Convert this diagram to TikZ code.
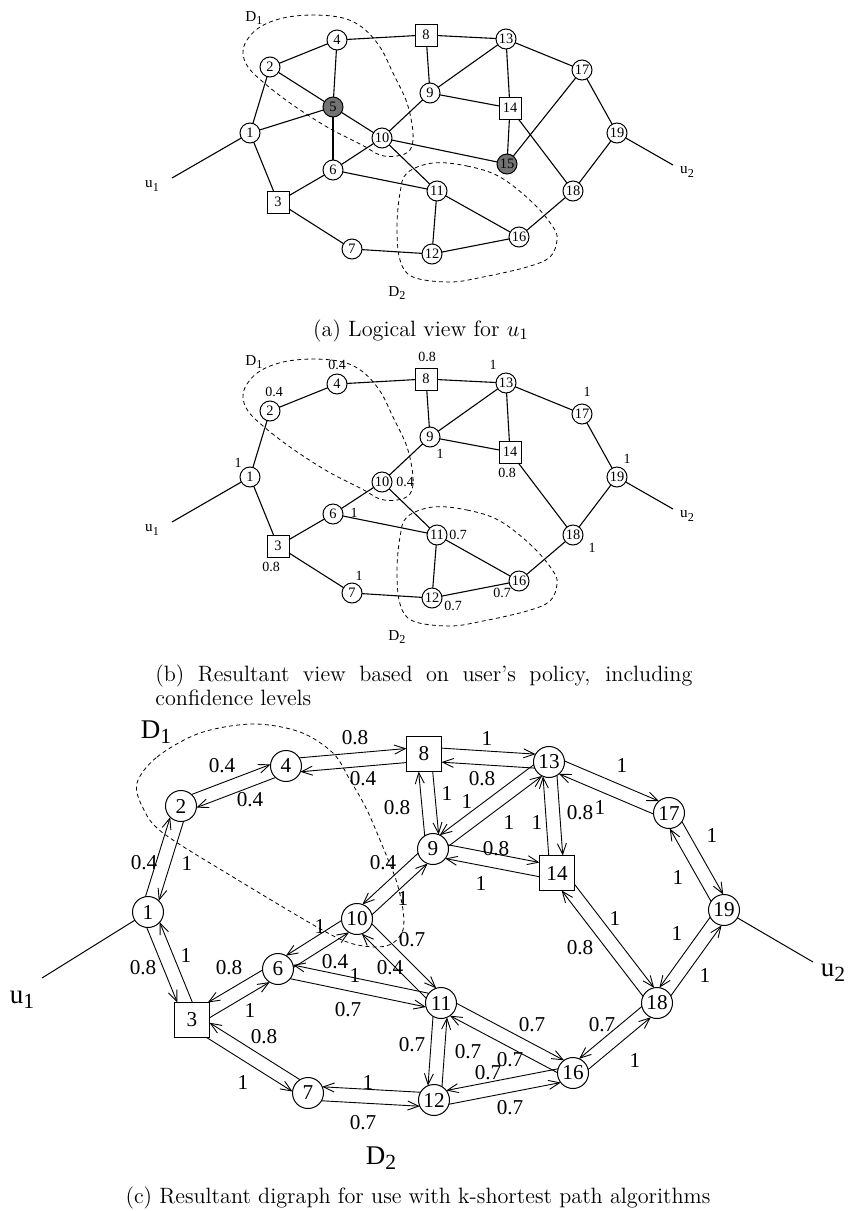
\documentclass[tikz,border=0pt]{standalone}
\usepackage{fontspec}
\usepackage{graphicx}
\newfontfamily\tms{Liberation Serif}
\usetikzlibrary{calc,arrows.meta}
\newcommand\dsub[1]{\raisebox{-0.45ex}{\scalebox{0.8}{#1}}}
% --- double-arrow machinery for panel (c)
\newcommand\arrsh[5]{%
  \ifcsname sqn@#1\endcsname
    \pgfmathsetmacro\arrres{min((8.75-(#4)*sign(#2))/max(abs(#2),0.001),(8.75-(#5)*sign(#3))/max(abs(#3),0.001))}%
  \else
    \pgfmathsetmacro\arrres{sqrt(7.75*7.75-3.5*3.5)}%
  \fi}
\newcommand\onearr[3]{%
  \pgfpointanchor{#1}{center}\pgfgetlastxy{\Xa}{\Ya}%
  \pgfpointanchor{#2}{center}\pgfgetlastxy{\Xb}{\Yb}%
  \pgfmathsetmacro\Dx{\Xb-\Xa}%
  \pgfmathsetmacro\Dy{\Yb-\Ya}%
  \pgfmathsetmacro\ArL{veclen(\Dx,\Dy)}%
  \pgfmathsetmacro\Ux{\Dx/\ArL}\pgfmathsetmacro\Uy{\Dy/\ArL}%
  \pgfmathsetmacro\Px{-(#3)*3.5*\Uy}\pgfmathsetmacro\Py{(#3)*3.5*\Ux}%
  \arrsh{#1}{\Ux}{\Uy}{\Px}{\Py}\let\SA\arrres
  \pgfmathsetmacro\mUx{-\Ux}\pgfmathsetmacro\mUy{-\Uy}%
  \arrsh{#2}{\mUx}{\mUy}{\Px}{\Py}\let\SB\arrres
  \draw[arr,shorten <=\SA pt,shorten >=\SB pt] ($(#1.center)+(\Px pt,\Py pt)$) -- ($(#2.center)+(\Px pt,\Py pt)$);
}
\newcommand\biarr[3]{\onearr{#1}{#2}{#3}\onearr{#2}{#1}{#3}}
\expandafter\def\csname sqn@c3\endcsname{}
\expandafter\def\csname sqn@c8\endcsname{}
\expandafter\def\csname sqn@c14\endcsname{}
\begin{document}
\begin{tikzpicture}[x=0.5pt,y=-0.5pt,
  na/.style={circle,draw,line width=0.5pt,minimum size=10pt,inner sep=0pt,outer sep=0pt,fill=white,font=\tms\fontsize{7.2}{8}\selectfont},
  nas/.style={na,rectangle,minimum size=11pt},
  ngray/.style={na,fill=black!55},
  ea/.style={line width=0.55pt},
  dsh/.style={dash pattern=on 2pt off 1.6pt,line width=0.4pt},
  la/.style={inner sep=0pt,font=\tms\fontsize{7}{8}\selectfont},
  lu/.style={inner sep=0pt,font=\tms\fontsize{7.6}{9}\selectfont},
  nc/.style={circle,draw,line width=0.5pt,minimum size=15.5pt,inner sep=0pt,outer sep=0pt,fill=white,font=\tms\fontsize{10.6}{12}\selectfont},
  ncs/.style={nc,rectangle,minimum size=17.5pt},
  lc/.style={inner sep=0pt,font=\tms\fontsize{10.6}{12}\selectfont},
  lbig/.style={inner sep=0pt,font=\tms\fontsize{13.5}{15}\selectfont},
  captxt/.style={inner sep=0pt,font=\fontsize{11.1}{12.3}\selectfont},
  arr/.style={line width=0.45pt,-{Straight Barb[length=5.5pt,width=4.5pt]}}]
\useasboundingbox (0,0) rectangle (847,1211);

% ================= panels (a) and (b): dashed domains
\foreach \s in {0,344}{
\begin{scope}[shift={(0,\s)}]
\draw[dsh] plot[smooth cycle,tension=0.6] coordinates {(243,53) (247,40) (260,27) (283,18) (313,15) (343,18) (363,28) (380,47) (393,73) (407,103) (413,133) (410,150) (397,156) (380,155) (362,145) (327,127) (290,103) (263,82) (248,67)};
\draw[dsh] plot[smooth cycle,tension=0.6] coordinates {(433,163) (467,166) (500,177) (533,203) (553,227) (557,240) (550,257) (527,267) (483,277) (450,282) (413,277) (400,260) (397,227) (400,193) (407,173)};
\end{scope}}

% ================= nodes (a) and (b)
\foreach \n/\x/\y in {1/250/133, 2/270/67, 4/337/40, 6/333/170, 7/352/249, 9/430/93, 10/382/138, 11/437/191, 12/432/254, 13/506/39, 16/519/237, 17/582/70, 18/573/191, 19/617/133}{
  \node[na] (a\n) at (\x,\y) {\n};
  \node[na] (b\n) at (\x,\y+344) {\n};
}
\foreach \n/\x/\y in {3/278/202, 8/426/35, 14/510/108}{
  \node[nas] (a\n) at (\x,\y) {\n};
  \node[nas] (b\n) at (\x,\y+344) {\n};
}
\node[ngray] (a5) at (333,107) {5};
\node[ngray] (a15) at (507,164) {15};

\foreach \u/\v in {1/2,1/5,1/3,2/4,2/5,4/5,4/8,5/6,5/10,6/10,6/3,6/11,3/7,7/12,10/9,10/11,10/15,8/9,8/13,9/13,9/14,13/14,13/17,14/15,14/18,15/17,17/19,19/18,18/16,11/16,11/12,12/16}
  \draw[ea] (a\u) -- (a\v);
\foreach \u/\v in {1/2,1/3,2/4,4/8,8/9,8/13,9/13,9/14,9/10,13/14,13/17,17/19,19/18,14/18,18/16,10/6,10/11,6/3,6/11,3/7,7/12,12/11,12/16,11/16}
  \draw[ea] (b\u) -- (b\v);

\coordinate (au1) at (172,178);
\coordinate (au2) at (673,165);
\coordinate (bu1) at (172,522);
\coordinate (bu2) at (673,509);
\draw[ea] (a1) -- (au1);
\draw[ea] (a19) -- (au2);
\draw[ea] (b1) -- (bu1);
\draw[ea] (b19) -- (bu2);
\node[lu] (tu1a) at (152,186) {u\dsub{1}};
\node[lu] (tu2a) at (687,172) {u\dsub{2}};
\node[lu] (tu1b) at (152,530) {u\dsub{1}};
\node[lu] (tu2b) at (687,516) {u\dsub{2}};
\node[lu] (td1a) at (254,18) {D\dsub{1}};
\node[lu] (td2a) at (397,293) {D\dsub{2}};
\node[lu] (td1b) at (254,362) {D\dsub{1}};
\node[lu] (td2b) at (397,637) {D\dsub{2}};

% confidence labels (b)
\foreach \t/\x/\y [count=\i] in {0.4/274/392, 0.4/337/365, 0.8/427/357, 1/238/463, 0.4/405/482, 1/354/513, 0.8/271/567, 1/359/576, 1/493/365, 1/587/392, 1/440/454, 0.8/507/473, 1/627/459, 0.7/458/535, 1/592/548, 0.7/502/593, 0.7/453/606}
  \node[la] (cl\i) at (\x,\y) {\t};

% ================= panel (c)
\draw[dsh] plot[smooth cycle,tension=0.55] coordinates {(137,783) (157,757) (200,733) (253,724) (300,732) (333,753) (350,780) (367,810) (387,857) (397,883) (403,910) (403,930) (393,943) (377,947) (350,943) (317,927) (233,877) (163,833) (143,808)};

\foreach \n/\x/\y in {1/148/912, 2/181/806, 4/286/766, 6/278/969, 7/308/1093, 9/433/849, 10/357/919, 11/441/1003, 12/434/1100, 13/549/762, 16/573/1073, 17/669/813, 18/657/1003, 19/724/910}
  \node[nc] (c\n) at (\x,\y) {\n};
\node[ncs] (c3) at (192,1020) {3};
\node[ncs] (c8) at (424,754) {8};
\node[ncs] (c14) at (557,873) {14};

\biarr{c1}{c2}{1}
\biarr{c1}{c3}{-1}
\biarr{c2}{c4}{1}
\biarr{c4}{c8}{1}
\biarr{c8}{c9}{1}
\biarr{c8}{c13}{1}
\biarr{c9}{c13}{-1}
\biarr{c13}{c14}{1}
\biarr{c13}{c17}{1}
\biarr{c17}{c19}{1}
\biarr{c19}{c18}{-1}
\biarr{c14}{c18}{1}
\biarr{c18}{c16}{-1}
\biarr{c11}{c16}{1}
\biarr{c12}{c16}{-1}
\biarr{c11}{c12}{-1}
\biarr{c7}{c12}{-1}
\biarr{c3}{c7}{-1}
\biarr{c3}{c6}{-1}
\biarr{c6}{c11}{-1}
\biarr{c6}{c10}{-1}
\biarr{c10}{c11}{1}
\biarr{c9}{c10}{-1}
\biarr{c9}{c14}{1}

\coordinate (cu1) at (42,978);
\coordinate (cu2) at (813,962);
\draw[line width=0.5pt] (c1) -- (cu1);
\draw[line width=0.5pt] (c19) -- (cu2);
\node[lbig] (tu1c) at (22,1000) {u\dsub{1}};
\node[lbig] (tu2c) at (833,973) {u\dsub{2}};
\node[lbig] (td1c) at (156,732) {D\dsub{1}};
\node[lbig] (td2c) at (381,1158) {D\dsub{2}};

\foreach \t/\x/\y [count=\i] in {0.4/144/863, 1/187/863, 0.8/143/968, 1/186/955, 0.4/222/766, 0.4/250/800, 0.8/355/738, 0.4/363/779, 0.8/397/808, 1/447/793, 1/487/738, 0.8/482/779, 1/467/801, 1/509/822, 1/537/822, 0.8/580/813, 1/622/765, 1/600/807, 1/678/877, 1/712/835, 1/677/933, 1/705/975, 0.8/580/948, 1/615/918, 0.7/602/1025, 1/635/1060, 0.7/532/1025, 0.7/510/1060, 0.7/488/1073, 0.7/510/1108, 0.7/412/1045, 0.7/468/1052, 1/368/1082, 0.7/363/1123, 0.8/264/1037, 1/243/1082, 0.8/229/968, 1/250/1010, 1/355/975, 0.7/348/1010, 1/320/926, 0.4/335/962, 0.7/412/940, 0.4/390/968, 0.4/383/863, 1/403/898, 0.8/496/849, 1/481/883}
  \node[lc] (wl\i) at (\x,\y) {\t};

% ================= captions
\node[captxt] (capa) at (421,331) {(a) Logical view for $u_1$};
\node[captxt,anchor=north west,align=left] (capb) at (155,664) {\hbox to 268.5pt{(b) Resultant view based on user's policy, including}\\confidence levels};
\node[captxt] (capc) at (418,1198) {(c) Resultant digraph for use with k-shortest path algorithms};
\end{tikzpicture}
\end{document}
